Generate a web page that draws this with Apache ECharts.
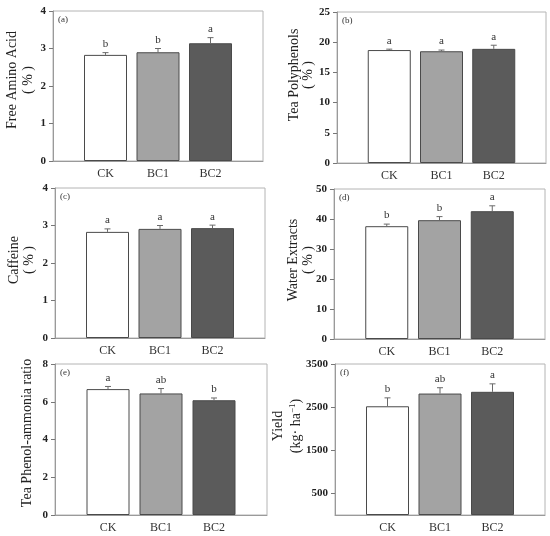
<!DOCTYPE html>
<html>
<head>
<meta charset="utf-8">
<script src="https://cdn.jsdelivr.net/npm/echarts@6.0.0/dist/echarts.min.js"></script>
<style>
  html, body { margin: 0; background: #fff; }
  #main { width: 550px; height: 536px; }
</style>
</head>
<body>
<div id="main"></div>
<script>
// treatments
const categories = ['CK', 'BC1', 'BC2'];

// (a) free amino acid, %
const freeAminoAcid = [2.83, 2.90, 3.14];
const freeAminoAcidErr = [0.06, 0.10, 0.15];
const freeAminoAcidSig = ['b', 'b', 'a'];

// (b) tea polyphenols, %
const teaPolyphenols = [18.7, 18.5, 18.9];
const teaPolyphenolsErr = [0.15, 0.2, 0.6];
const teaPolyphenolsSig = ['a', 'a', 'a'];

// (c) caffeine, %
const caffeine = [2.83, 2.91, 2.93];
const caffeineErr = [0.08, 0.09, 0.08];
const caffeineSig = ['a', 'a', 'a'];

// (d) water extracts, %
const waterExtracts = [37.6, 39.6, 42.6];
const waterExtractsErr = [0.7, 1.2, 1.8];
const waterExtractsSig = ['b', 'b', 'a'];

// (e) tea phenol-ammonia ratio
const phenolAmmonia = [6.67, 6.44, 6.08];
const phenolAmmoniaErr = [0.14, 0.26, 0.12];
const phenolAmmoniaSig = ['a', 'ab', 'b'];

// (f) yield, kg/ha
const yieldKg = [2520, 2815, 2855];
const yieldKgErr = [195, 135, 185];
const yieldKgSig = ['b', 'ab', 'a'];
const yieldTicks = [500, 1500, 2500, 3500];

const SERIF = "'Liberation Serif', 'Times New Roman', serif";
const barColors = ['#ffffff', '#a3a3a3', '#5b5b5b'];

// layout of the six panels
const panels = [
  { tag: '(a)', vals: freeAminoAcid, errs: freeAminoAcidErr, sig: freeAminoAcidSig, max: 4, interval: 1,
    left: 53, top: 11, width: 210, height: 150, title: ['Free Amino Acid', '( % )'], tx: [12, 28], ty: 80 },
  { tag: '(b)', vals: teaPolyphenols, errs: teaPolyphenolsErr, sig: teaPolyphenolsSig, max: 25, interval: 5,
    left: 337, top: 12, width: 209, height: 151, title: ['Tea Polyphenols', '( % )'], tx: [294, 308], ty: 75 },
  { tag: '(c)', vals: caffeine, errs: caffeineErr, sig: caffeineSig, max: 4, interval: 1,
    left: 55, top: 188, width: 210, height: 150, title: ['Caffeine', '( % )'], tx: [14, 29], ty: 260 },
  { tag: '(d)', vals: waterExtracts, errs: waterExtractsErr, sig: waterExtractsSig, max: 50, interval: 10,
    left: 334, top: 189, width: 211, height: 150, title: ['Water Extracts', '( % )'], tx: [293, 308], ty: 260 },
  { tag: '(e)', vals: phenolAmmonia, errs: phenolAmmoniaErr, sig: phenolAmmoniaSig, max: 8, interval: 2,
    left: 55, top: 364, width: 212, height: 151, title: ['Tea Phenol-ammonia ratio'], tx: [27], ty: 433 },
  { tag: '(f)', vals: yieldKg, errs: yieldKgErr, sig: yieldKgSig, max: 3500, ticks: yieldTicks,
    left: 335, top: 364, width: 210, height: 151, title: ['Yield', '(kg\u00b7 ha{s|\u22121})'], tx: [278, 296], ty: 426 }
];

const grid = [], xAxis = [], yAxis = [], series = [], graphic = [];

panels.forEach(function (p, i) {
  grid.push({
    left: p.left, top: p.top, width: p.width, height: p.height,
    show: true, borderColor: '#b4b4b4', borderWidth: 1, backgroundColor: 'transparent'
  });
  xAxis.push({
    gridIndex: i, type: 'value', min: -1, max: 3,
    axisLine: { onZero: false, lineStyle: { color: '#9a9a9a' } },
    axisTick: { show: false },
    splitLine: { show: false },
    axisLabel: {
      customValues: [0, 1, 2],
      formatter: function (v) { return categories[v] || ''; },
      fontFamily: SERIF, fontSize: 12, color: '#333', margin: 7
    }
  });
  const y = {
    gridIndex: i, type: 'value', min: 0, max: p.max,
    axisLine: { show: true, onZero: false, lineStyle: { color: '#9a9a9a' } },
    axisTick: { show: true, length: 4, lineStyle: { color: '#777' } },
    splitLine: { show: false },
    axisLabel: {
      formatter: function (v) { return String(v); },
      fontFamily: SERIF, fontSize: 11, fontWeight: 'bold', color: '#222', margin: 7
    }
  };
  if (p.ticks) {
    y.axisLabel.customValues = p.ticks;
    y.axisTick.customValues = p.ticks;
  } else {
    y.interval = p.interval;
  }
  yAxis.push(y);

  series.push({
    type: 'bar', xAxisIndex: i, yAxisIndex: i, barWidth: 43,
    data: p.vals.map(function (v, k) {
      return { value: [k, v], itemStyle: { color: barColors[k] } };
    }),
    itemStyle: { borderColor: '#4a4a4a', borderWidth: 1 },
    silent: true
  });

  series.push({
    type: 'custom', xAxisIndex: i, yAxisIndex: i, z: 5, clip: false,
    data: p.vals.map(function (v, k) { return [k, v, p.errs[k]]; }),
    renderItem: function (params, api) {
      const x = api.value(0), v = api.value(1), e = api.value(2);
      const base = api.coord([x, v]);
      const top = api.coord([x, v + e]);
      return {
        type: 'group',
        children: [
          { type: 'line', shape: { x1: base[0], y1: base[1], x2: top[0], y2: top[1] },
            style: { stroke: '#6a6a6a', lineWidth: 1 } },
          { type: 'line', shape: { x1: top[0] - 3, y1: top[1], x2: top[0] + 3, y2: top[1] },
            style: { stroke: '#6a6a6a', lineWidth: 1 } },
          { type: 'text', x: top[0], y: top[1] - 3,
            style: { text: p.sig[params.dataIndex], align: 'center', verticalAlign: 'bottom',
                     fontFamily: SERIF, fontSize: 11, fill: '#333' } }
        ]
      };
    }
  });

  // panel tag
  graphic.push({
    type: 'text', left: p.left + 5, top: p.top + 4,
    style: { text: p.tag, fontFamily: SERIF, fontSize: 9, fill: '#333' }
  });

  // axis titles, rotated
  p.title.forEach(function (t, k) {
    graphic.push({
      type: 'text', x: p.tx[k], y: p.ty, rotation: Math.PI / 2,
      style: {
        text: t, align: 'center', verticalAlign: 'middle',
        fontFamily: SERIF, fontSize: 14, fill: '#222',
        rich: { s: { fontFamily: SERIF, fontSize: 9, fill: '#222', verticalAlign: 'top', padding: [0, 0, 6, 0] } }
      }
    });
  });
});

const chart = echarts.init(document.getElementById('main'));
chart.setOption({
  animation: false,
  backgroundColor: '#fff',
  grid: grid,
  xAxis: xAxis,
  yAxis: yAxis,
  series: series,
  graphic: graphic
});
</script>
</body>
</html>
